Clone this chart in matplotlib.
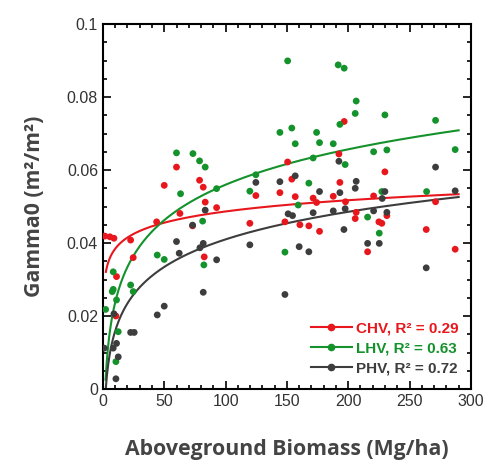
import numpy as np
import matplotlib.pyplot as plt
from matplotlib.lines import Line2D
from matplotlib.ticker import MultipleLocator

# DATA
chv_x = [1.6, 5.7, 9.0, 11.1, 10.6, 22.6, 24.7, 43.8, 50, 60, 62.8, 73.1, 78.8, 81.8,
         83.4, 82.6, 92.7, 119.8, 124.7, 144.3, 148.4, 150.6, 154, 156.8, 160.6, 167.9,
         171.4, 174.2, 176.6, 187.8, 192.4, 193.2, 196.7, 197.8, 205.7, 206.5, 215.8,
         220.7, 225, 227.4, 229.9, 231.5, 263.6, 271.2, 287.2]
chv_y = [0.0419, 0.0417, 0.0413, 0.0308, 0.0200, 0.0408, 0.0360, 0.0458, 0.0558, 0.0608,
         0.0481, 0.0447, 0.0572, 0.0553, 0.0512, 0.0362, 0.0497, 0.0454, 0.0530, 0.0538,
         0.0458, 0.0622, 0.0575, 0.0527, 0.0450, 0.0447, 0.0523, 0.0511, 0.0432, 0.0528,
         0.0644, 0.0566, 0.0733, 0.0513, 0.0467, 0.0484, 0.0376, 0.0529, 0.0458, 0.0454,
         0.0595, 0.0475, 0.0437, 0.0513, 0.0383]

lhv_x = [2.2, 7.6, 8.4, 8.4, 11.1, 12.5, 10.6, 22.6, 24.7, 44.3, 50, 60, 63.3, 73.4,
         78.8, 81.3, 82.3, 83.4, 92.7, 119.8, 124.7, 144.3, 148.4, 150.6, 154, 156.8,
         159.2, 167.9, 171.4, 174.2, 176.6, 187.8, 191.8, 193.2, 196.7, 197.5, 205.7,
         206.5, 215.8, 220.7, 225.3, 227.4, 229.9, 231.5, 263.9, 271.2, 287.2]
lhv_y = [0.0218, 0.0267, 0.0273, 0.0321, 0.0244, 0.0157, 0.0075, 0.0285, 0.0267, 0.0367,
         0.0355, 0.0647, 0.0535, 0.0645, 0.0625, 0.0460, 0.0340, 0.0608, 0.0549, 0.0542,
         0.0587, 0.0703, 0.0375, 0.0899, 0.0715, 0.0672, 0.0504, 0.0564, 0.0633, 0.0703,
         0.0675, 0.0672, 0.0888, 0.0725, 0.0879, 0.0615, 0.0755, 0.0789, 0.0471, 0.0650,
         0.0427, 0.0541, 0.0751, 0.0655, 0.0541, 0.0736, 0.0656]

phv_x = [1.1, 8.4, 11.1, 9.0, 12.5, 10.6, 22.6, 25.5, 44.3, 50, 60, 62.2, 73.1, 79.1,
         81.8, 83.4, 81.8, 92.7, 119.8, 124.7, 144.3, 148.4, 151, 154.6, 156.8, 160,
         167.9, 171.4, 176.6, 187.8, 192.4, 193.2, 196.5, 197.5, 205.7, 206.5, 215.8,
         220.7, 225.3, 227.7, 229.9, 231.5, 263.6, 271.2, 287.2]
phv_y = [0.0112, 0.0112, 0.0125, 0.0206, 0.0088, 0.0028, 0.0155, 0.0155, 0.0203, 0.0227,
         0.0404, 0.0372, 0.0449, 0.0387, 0.0399, 0.0490, 0.0265, 0.0354, 0.0395, 0.0566,
         0.0568, 0.0259, 0.0480, 0.0475, 0.0584, 0.0390, 0.0376, 0.0483, 0.0541, 0.0488,
         0.0624, 0.0538, 0.0437, 0.0494, 0.0550, 0.0569, 0.0399, 0.0488, 0.0399, 0.0522,
         0.0541, 0.0484, 0.0332, 0.0608, 0.0543]

# log fits y = a + b*ln(x), coefficients
chv_fit = (0.0282, 0.00444)
lhv_fit = (-0.0085, 0.0140)
phv_fit = (-0.0092, 0.0109)
fit_start = [2.4, 2.2, 2.4]
fit_end = 290

names = ['CHV, R² = 0.29', 'LHV, R² = 0.63', 'PHV, R² = 0.72']
colors = ['#e8171d', '#14922b', '#3d3d3d']

plt.rcParams['font.family'] = ['Liberation Sans', 'DejaVu Sans']
label_font = ['Open Sans', 'DejaVu Sans']

fig = plt.figure(figsize=(5.02, 4.62), dpi=100)
ax = fig.add_axes([0.205, 0.158, 0.733, 0.79])

series = [(chv_x, chv_y, chv_fit), (lhv_x, lhv_y, lhv_fit), (phv_x, phv_y, phv_fit)]
handles = []
for i, (xs, ys, (a, b)) in enumerate(series):
    ax.scatter(xs, ys, s=24, color=colors[i], edgecolors='none', zorder=3)
    xf = np.linspace(fit_start[i], fit_end, 300)
    ax.plot(xf, a + b * np.log(xf), color=colors[i], lw=1.5, zorder=2)
    handles.append(Line2D([], [], color=colors[i], lw=1.5, marker='o', markersize=4.5))

ax.set_xlim(0, 300)
ax.set_ylim(0, 0.1)
ax.xaxis.set_major_locator(MultipleLocator(50))
ax.xaxis.set_minor_locator(MultipleLocator(10))
ax.yaxis.set_major_locator(MultipleLocator(0.02))
ax.yaxis.set_minor_locator(MultipleLocator(0.005))
ax.set_yticks([0, 0.02, 0.04, 0.06, 0.08, 0.1])
ax.set_yticklabels(['0', '0.02', '0.04', '0.06', '0.08', '0.1'])
ax.tick_params(which='both', direction='in', top=True, right=True,
               labelsize=11.5, labelcolor='#333333', width=1.2)
ax.tick_params(which='major', length=6)
ax.tick_params(which='minor', length=3)
for s in ax.spines.values():
    s.set_linewidth(1.5)

ax.set_xlabel('Aboveground Biomass (Mg/ha)', family=label_font, fontsize=15.3,
              fontweight='bold', color='#444444', labelpad=22)
ax.set_ylabel('Gamma0 (m²/m²)', family=label_font, fontsize=15.3,
              fontweight='bold', color='#444444', labelpad=16)

leg = ax.legend(handles, names, loc='lower right', frameon=False, numpoints=1,
                handlelength=2.7, handletextpad=0.3, labelspacing=0.4,
                prop={'weight': 'bold', 'size': 11}, bbox_to_anchor=(1.005, 0.0))
for t, c in zip(leg.get_texts(), colors):
    t.set_color(c)

fig.savefig('out.png', dpi=100)
